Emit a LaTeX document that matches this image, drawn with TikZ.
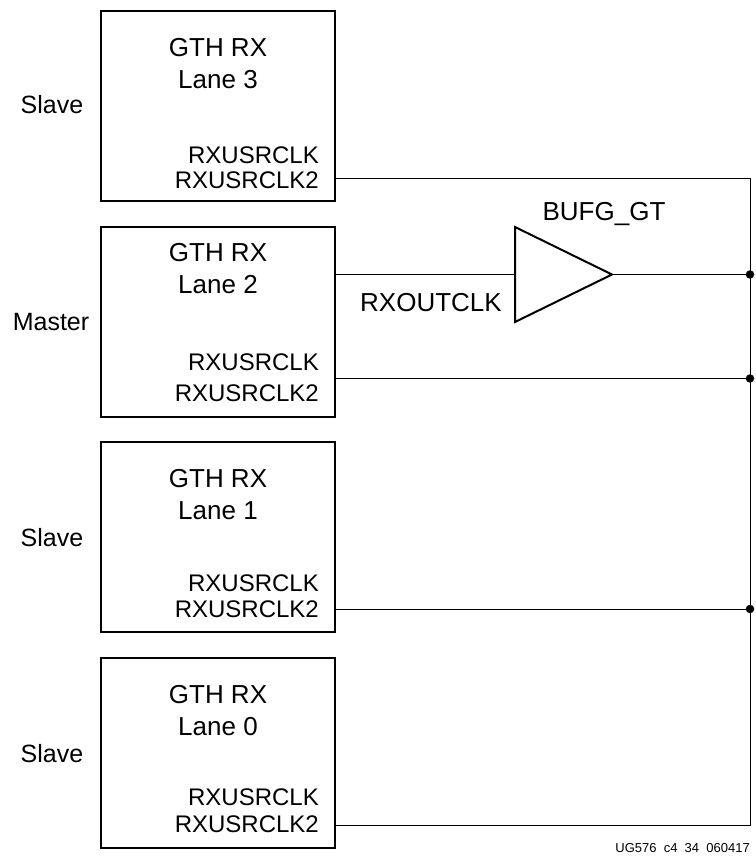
\documentclass[tikz,border=0pt]{standalone}
\usepackage{fontspec}
\setmainfont{Liberation Sans}
\begin{document}
\begin{tikzpicture}[x=1pt,y=-1pt,
  gbox/.style={draw, line width=2.2pt, minimum width=234pt, minimum height=190pt, anchor=north west, inner sep=0pt, outer sep=0pt},
  ttl/.style={font=\fontsize{26}{28}\selectfont, anchor=base, inner sep=0pt},
  pin/.style={font=\fontsize{24}{26}\selectfont, anchor=base east, inner sep=0pt},
  side/.style={font=\fontsize{25}{27}\selectfont, anchor=base, inner sep=0pt},
  wire/.style={line width=1pt},
  jdot/.style={circle, fill, inner sep=0pt, minimum size=8.5pt}]
\useasboundingbox (0,0) rectangle (755,858);

% boxes
\node[gbox] (b3) at (101,11) {};
\node[gbox] (b2) at (101,227) {};
\node[gbox] (b1) at (101,442) {};
\node[gbox] (b0) at (101,658) {};

% box 3
\node[ttl] (t3a) at (218,56.3) {GTH RX};
\node[ttl] (t3b) at (218,88.3) {Lane 3};
\node[pin] (p3a) at (319,163.6) {RXUSRCLK};
\node[pin] (p3b) at (319,188.6) {RXUSRCLK2};
\node[side] (s3) at (52,114) {Slave};

% box 2
\node[ttl] (t2a) at (218,261.3) {GTH RX};
\node[ttl] (t2b) at (218,293.3) {Lane 2};
\node[pin] (p2a) at (319,370.6) {RXUSRCLK};
\node[pin] (p2b) at (319,401.6) {RXUSRCLK2};
\node[side] (s2) at (51,330) {Master};

% box 1
\node[ttl] (t1a) at (218,487.3) {GTH RX};
\node[ttl] (t1b) at (218,519.3) {Lane 1};
\node[pin] (p1a) at (319,591.6) {RXUSRCLK};
\node[pin] (p1b) at (319,617.6) {RXUSRCLK2};
\node[side] (s1) at (52,546.5) {Slave};

% box 0
\node[ttl] (t0a) at (218,703.3) {GTH RX};
\node[ttl] (t0b) at (218,735.3) {Lane 0};
\node[pin] (p0a) at (319,805.6) {RXUSRCLK};
\node[pin] (p0b) at (319,832.6) {RXUSRCLK2};
\node[side] (s0) at (52,762) {Slave};

% buffer
\draw[line width=2pt, line join=miter] (515,227) -- (612,274.5) -- (515,322) -- cycle;
\coordinate (bin) at (515,274.5);
\coordinate (bout) at (612,274.5);
\node[ttl] (bufl) at (604,221) {BUFG\_GT};
\node[ttl] (rxo) at (431,311.7) {RXOUTCLK};

% connection points
\coordinate (o2) at (b2.east |- bin);
\coordinate (u3) at (335,179);
\coordinate (u2) at (335,378.5);
\coordinate (u1) at (335,609);
\coordinate (u0) at (335,825);
\coordinate (j3) at (750,179);
\coordinate (jb) at (750,274.5);
\coordinate (j2) at (750,378.5);
\coordinate (j1) at (750,609);
\coordinate (j0) at (750,825);

\draw[wire] (o2) -- (bin);
\draw[wire] (bout) -- (jb);
\draw[wire] (u3) -- (j3) -- (j0) -- (u0);
\draw[wire] (u2) -- (j2);
\draw[wire] (u1) -- (j1);

\node[jdot] (d1) at (jb) {};
\node[jdot] (d2) at (j2) {};
\node[jdot] (d3) at (j1) {};

\node[font=\fontsize{13}{14}\selectfont, anchor=base east, inner sep=0pt] (fn) at (750,852) {UG576\hspace{.556em}c4\hspace{.556em}34\hspace{.556em}060417};
\end{tikzpicture}
\end{document}
